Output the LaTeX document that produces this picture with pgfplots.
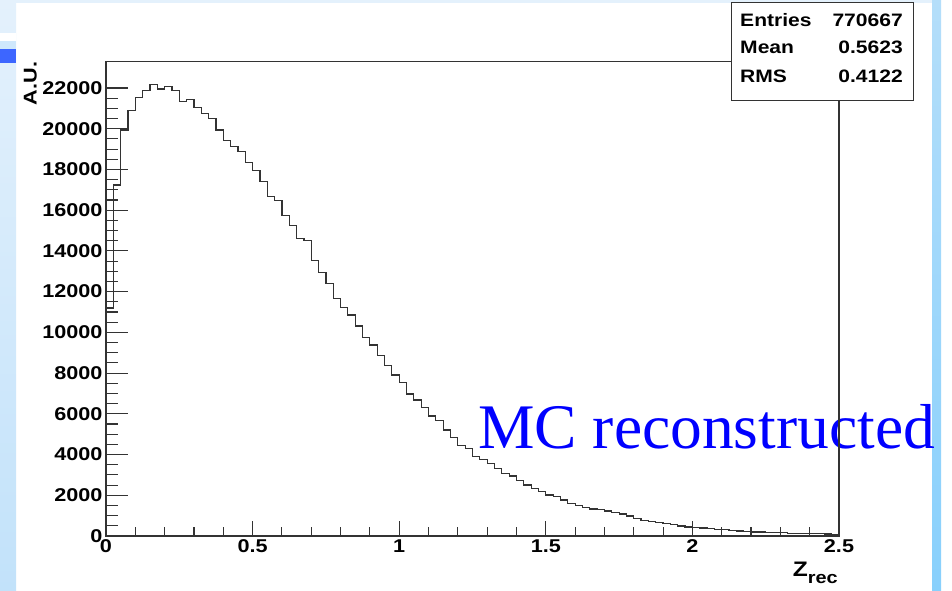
\documentclass[border=0pt]{standalone}
\usepackage{pgfplots}
\pgfplotsset{compat=1.18}
\usepackage{fontspec}
\setmainfont{Liberation Sans}
\newfontfamily\rootfont[FakeStretch=1.17]{Liberation Sans}
\newfontfamily\timesfont{Liberation Serif}
\definecolor{leftTop}{HTML}{E4F1FC}
\definecolor{leftBot}{HTML}{C2E2FA}
\definecolor{leftMid}{HTML}{CFE8FC}
\definecolor{slideBlue}{HTML}{3D66FF}
\definecolor{rightTop}{HTML}{B4DEFA}
\definecolor{rightBot}{HTML}{88D0FC}
\definecolor{histline}{HTML}{333333}
\begin{document}
\begin{tikzpicture}[x=1pt,y=1pt]
\path[use as bounding box] (0,0) rectangle (952,590);
\fill[white] (0,0) rectangle (952,590);
% slide decoration
\shade[top color=leftTop, bottom color=leftBot] (0,0) rectangle (16,590);
\fill[leftTop] (16,587) rectangle (941,590);
\fill[white] (0,549) rectangle (16,557);
\fill[leftMid] (0,541) rectangle (16,549);
\fill[slideBlue] (0,527) rectangle (16,541);
\shade[top color=rightTop, bottom color=rightBot] (932,0) rectangle (941,590);
% overlay text
\node[anchor=base west, inner sep=0pt, text=blue, font=\timesfont\fontsize{63.5}{70}\selectfont] at (478,141.7) {MC reconstructed};
\begin{axis}[
  at={(106pt,54pt)}, anchor=south west,
  scale only axis, width=733pt, height=474.3pt,
  xmin=0, xmax=2.5, ymin=0, ymax=23290,
  axis line style={line width=1.1pt, histline},
  tick pos=left, tick align=inside,
  xtick={0,0.5,1,1.5,2,2.5},
  ytick={0,2000,...,22000},
  minor x tick num=4, minor y tick num=3,
  major tick length=21.7pt, minor tick length=11.7pt,
  xtick style={/pgfplots/major tick length=15pt, /pgfplots/minor tick length=8.7pt},
  tick style={line width=1.1pt, histline},
  scaled y ticks=false, scaled x ticks=false,
  /pgf/number format/assume math mode=true,
  /pgf/number format/set thousands separator={},
  tick label style={font=\rootfont\bfseries\fontsize{18.5}{20}\selectfont},
]
\addplot[const plot mark left, line width=1.2pt, histline] coordinates {
(0,11200) (0.025,17240) (0.05,19940) (0.075,20890) (0.1,21550) (0.125,21870)
(0.15,22180) (0.175,21950) (0.2,22080) (0.225,21870) (0.25,21350) (0.275,21430)
(0.3,21040) (0.325,20730) (0.35,20510) (0.375,19940) (0.4,19410) (0.425,19120)
(0.45,18880) (0.475,18350) (0.5,17930) (0.525,17390) (0.55,16660) (0.575,16490)
(0.6,15750) (0.625,15240) (0.65,14600) (0.675,14500) (0.7,13510) (0.725,12930)
(0.75,12410) (0.775,11670) (0.8,11210) (0.825,10850) (0.85,10310) (0.875,9760)
(0.9,9380) (0.925,8860) (0.95,8360) (0.975,7910) (1.0,7530) (1.025,6970)
(1.05,6680) (1.075,6320) (1.1,5890) (1.125,5660) (1.15,5210) (1.175,4850)
(1.2,4440) (1.225,4310) (1.25,3900) (1.275,3770) (1.3,3570) (1.325,3320)
(1.35,3080) (1.375,2950) (1.4,2720) (1.425,2500) (1.45,2340) (1.475,2180)
(1.5,2010) (1.525,1930) (1.55,1770) (1.575,1610) (1.6,1480) (1.625,1400)
(1.65,1330) (1.675,1290) (1.7,1230) (1.725,1150) (1.75,1080) (1.775,980)
(1.8,860) (1.825,770) (1.85,720) (1.875,660) (1.9,610) (1.925,560)
(1.95,490) (1.975,440) (2.0,410) (2.025,390) (2.05,370) (2.075,330)
(2.1,310) (2.125,260) (2.15,245) (2.175,235) (2.2,200) (2.225,195)
(2.25,190) (2.275,185) (2.3,165) (2.325,130) (2.35,125) (2.375,120)
(2.4,115) (2.425,110) (2.45,100) (2.475,50) (2.5,50)
};
\end{axis}
% axis titles
\node[anchor=base east, inner sep=0pt, rotate=90, font=\rootfont\bfseries\fontsize{18.5}{20}\selectfont] at (36.7,528.3) {A.U.};
\node[anchor=base east, inner sep=0pt, font=\rootfont\bfseries\fontsize{21}{22}\selectfont] at (838,13.3) {Z\raisebox{-6.6pt}{\fontsize{17}{18}\selectfont rec}};
% stats box
\draw[fill=white, draw=histline, line width=1pt] (731,489) rectangle (913,587);
\begin{scope}[every node/.style={inner sep=0pt, text=black, font=\rootfont\bfseries\fontsize{18}{20}\selectfont}]
\node[anchor=base west] at (740,563.3) {Entries};
\node[anchor=base east] at (903,563.3) {770667};
\node[anchor=base west] at (740,536) {Mean};
\node[anchor=base east] at (903,536) {0.5623};
\node[anchor=base west] at (740,507) {RMS};
\node[anchor=base east] at (903,507) {0.4122};
\end{scope}
\end{tikzpicture}
\end{document}
